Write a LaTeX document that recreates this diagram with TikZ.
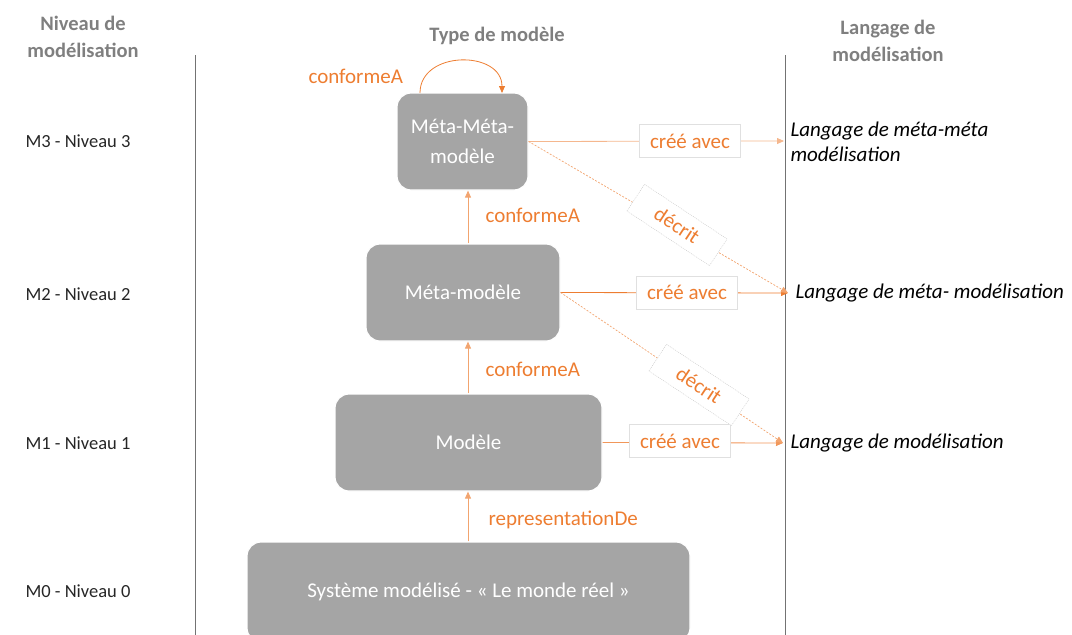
\documentclass[tikz,border=0pt]{standalone}
\usepackage{fontspec}
\setmainfont{Carlito}
\usetikzlibrary{arrows.meta}
\definecolor{org}{HTML}{ED7D31}
\definecolor{boxg}{HTML}{A5A5A5}
\definecolor{hdr}{HTML}{7F7F7F}
\begin{document}
\begin{tikzpicture}[x=1pt,y=-1pt,
  mbox/.style={draw=white,line width=1.2pt,fill=boxg,rounded corners=14pt,text=white,font=\fontsize{21}{30}\selectfont,align=center,inner sep=0pt},
  hdrtxt/.style={text=hdr,font=\bfseries\fontsize{20.5}{27}\selectfont,align=center},
  lvl/.style={anchor=west,font=\fontsize{18.5}{22}\selectfont,text=black!85},
  lang/.style={anchor=west,font=\itshape\fontsize{21}{24.5}\selectfont,align=left,text=black},
  olab/.style={text=org,font=\fontsize{21}{24}\selectfont},
  cbox/.style={draw=black!12,fill=white,text=org,font=\fontsize{21}{24}\selectfont,minimum width=101pt,minimum height=33pt,inner sep=0pt},
  dbox/.style={draw=black!22,dashed,dash pattern=on 1pt off 1pt,fill=white,text=org,font=\fontsize{21}{24}\selectfont,minimum width=99pt,minimum height=32pt,inner sep=0pt,rotate=-33.5},
  arr/.style={draw=org,line width=0.8pt,-{Triangle[length=7pt,width=6pt]}},
  darr/.style={draw=org!70,line width=0.7pt,dashed,dash pattern=on 2pt off 1.5pt,-{Triangle[length=7pt,width=6pt]}}
]
\useasboundingbox (0,0) rectangle (1072,635);
% vertical separators
\draw[black!55,line width=0.8pt] (195,55) -- (195,635);
\draw[black!55,line width=0.8pt] (785,55) -- (785,635);
% headers
\node[hdrtxt] (h1) at (83,37) {Niveau de\\modélisation};
\node[hdrtxt] (h2) at (497,36) {Type de modèle};
\node[hdrtxt] (h3) at (888,41) {Langage de\\modélisation};
% level labels
\node[lvl] (l3) at (22,141) {M3 - Niveau 3};
\node[lvl] (l2) at (22,294) {M2 - Niveau 2};
\node[lvl] (l1) at (22,443) {M1 - Niveau 1};
\node[lvl] (l0) at (22,591) {M0 - Niveau 0};
% boxes
\node[mbox,minimum width=131pt,minimum height=97pt] (mm) at (462.5,141.5) {Méta-Méta-\\modèle};
\node[mbox,minimum width=194pt,minimum height=97pt] (m) at (463,292.5) {Méta-modèle};
\node[mbox,minimum width=267pt,minimum height=97pt] (mo) at (468.5,442.5) {Modèle};
\node[mbox,minimum width=443pt,minimum height=100pt] (sy) at (468.5,592) {Système modélisé - « Le monde réel »};
% language texts
\node[lang] (t3) at (787,142) {Langage de méta-méta\\modélisation};
\node[lang] (t2) at (792,293) {Langage de méta- modélisation};
\node[lang] (t1) at (787,443) {Langage de modélisation};
\coordinate (e3) at (784,141);
\coordinate (e2) at (788,293);
\coordinate (e1) at (783,443);
% vertical arrows
\draw[arr,draw=org!70] (sy.north -| 468,0) -- (mo.south -| 468,0);
\node[olab,anchor=west] (rl) at (485,520) {representationDe};
\draw[arr,draw=org!70] (mo.north -| 468,0) -- (m.south -| 468,0);
\node[olab,anchor=west] (c1) at (482,369) {conformeA};
\draw[arr,draw=org!70] (m.north -| 468,0) -- (mm.south -| 468,0);
\node[olab,anchor=west] (c2) at (482,215) {conformeA};
% self loop
\coordinate (sl1) at (420,93);
\coordinate (sl2) at (502,93);
\draw[arr,line width=0.8pt] (sl1) .. controls (420,50) and (502,50) .. (sl2);
\node[olab,anchor=west] (c3) at (305,76) {conformeA};
% cree avec
\draw[arr,draw=org!55] (mm.east) -- (e3);
\node[cbox] (cb3) at (690,141) {créé avec};
\draw[arr] (m.east) -- (e2);
\node[cbox] (cb2) at (687,292.5) {créé avec};
\draw[arr,draw=org!80] (mo.east) -- (e1);
\node[cbox] (cb1) at (680,441) {créé avec};
% decrit
\draw[darr] (mm.east) -- (e2);
\node[dbox] (d1) at (677,225) {décrit};
\draw[darr] (m.east) -- (e1);
\node[dbox] (d2) at (699,385) {décrit};
\end{tikzpicture}
\end{document}
